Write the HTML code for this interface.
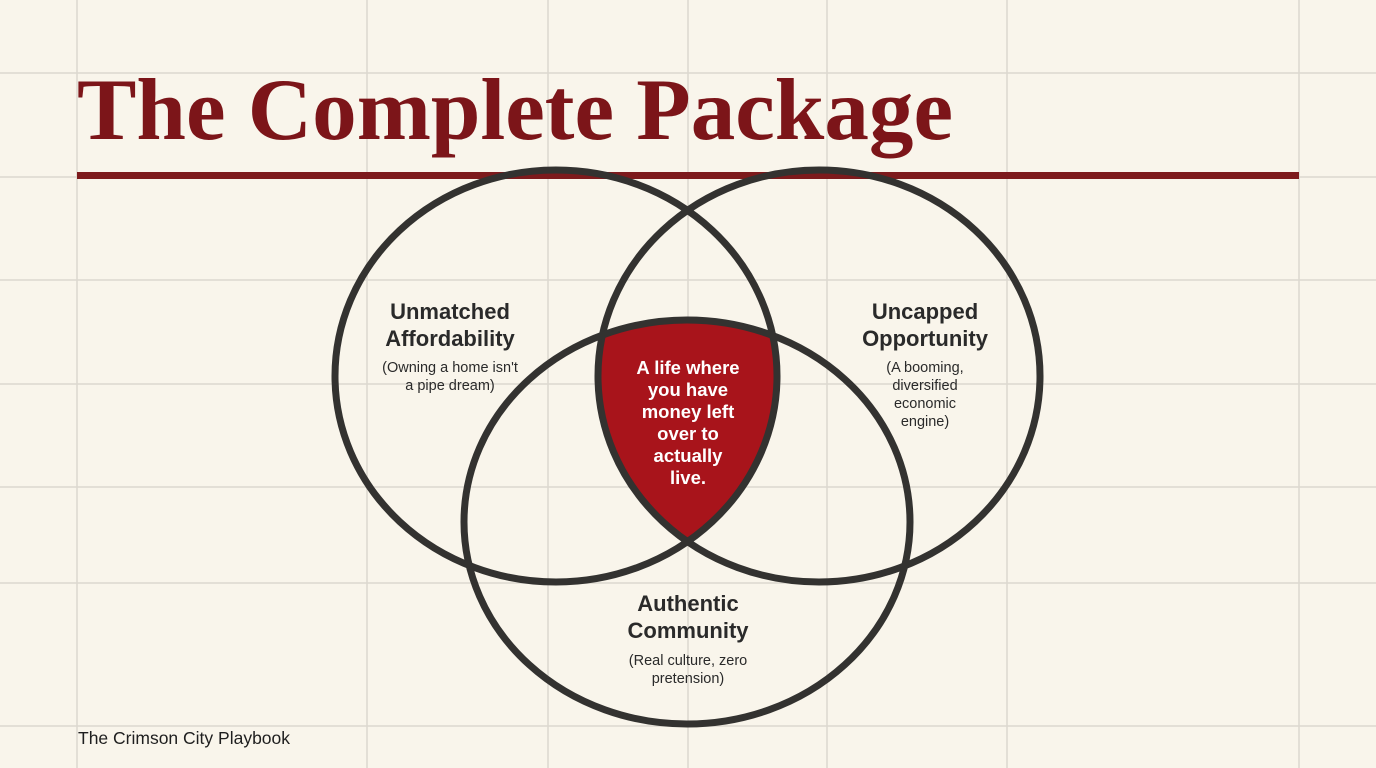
<!DOCTYPE html>
<html><head><meta charset="utf-8"><style>
html,body{margin:0;padding:0;background:#f9f5eb;}
svg{display:block;}
</style></head><body>
<svg width="1376" height="768" viewBox="0 0 1376 768" xmlns="http://www.w3.org/2000/svg">
<rect width="1376" height="768" fill="#f9f5eb"/>
<g stroke="#dcd8cf" stroke-width="1.5">
<line x1="77" y1="0" x2="77" y2="768"/>
<line x1="367" y1="0" x2="367" y2="768"/>
<line x1="548" y1="0" x2="548" y2="768"/>
<line x1="688" y1="0" x2="688" y2="768"/>
<line x1="827" y1="0" x2="827" y2="768"/>
<line x1="1007" y1="0" x2="1007" y2="768"/>
<line x1="1299" y1="0" x2="1299" y2="768"/>
<line x1="0" y1="73" x2="1376" y2="73"/>
<line x1="0" y1="177" x2="1376" y2="177"/>
<line x1="0" y1="280" x2="1376" y2="280"/>
<line x1="0" y1="384" x2="1376" y2="384"/>
<line x1="0" y1="487" x2="1376" y2="487"/>
<line x1="0" y1="583" x2="1376" y2="583"/>
<line x1="0" y1="726" x2="1376" y2="726"/>
</g>
<text x="77" y="139" font-family="Liberation Serif, serif" font-weight="bold" font-size="88" fill="#7c1519" textLength="876" lengthAdjust="spacingAndGlyphs">The Complete Package</text>
<rect x="77" y="172" width="1222" height="7" fill="#7d1a1c"/>
<defs>
<clipPath id="cL"><ellipse cx="556" cy="376" rx="221" ry="206"/></clipPath>
<clipPath id="cR"><ellipse cx="819" cy="376" rx="221" ry="206"/></clipPath>
</defs>
<g clip-path="url(#cL)"><g clip-path="url(#cR)">
<ellipse cx="687" cy="522" rx="223" ry="202" fill="#a8141b"/>
</g></g>
<g fill="none" stroke="#333230" stroke-width="7">
<ellipse cx="556" cy="376" rx="221" ry="206"/>
<ellipse cx="819" cy="376" rx="221" ry="206"/>
<ellipse cx="687" cy="522" rx="223" ry="202"/>
</g>
<g font-family="Liberation Sans, sans-serif" text-anchor="middle" fill="#2a2a2a">
<text x="450" y="319" font-size="22" font-weight="bold">Unmatched</text>
<text x="450" y="346" font-size="22" font-weight="bold">Affordability</text>
<text x="450" y="372" font-size="14.5">(Owning a home isn't</text>
<text x="450" y="390" font-size="14.5">a pipe dream)</text>
<text x="925" y="319" font-size="22" font-weight="bold">Uncapped</text>
<text x="925" y="346" font-size="22" font-weight="bold">Opportunity</text>
<text x="925" y="372" font-size="14.5">(A booming,</text>
<text x="925" y="390" font-size="14.5">diversified</text>
<text x="925" y="408" font-size="14.5">economic</text>
<text x="925" y="426" font-size="14.5">engine)</text>
<text x="688" y="611" font-size="22" font-weight="bold">Authentic</text>
<text x="688" y="638" font-size="22" font-weight="bold">Community</text>
<text x="688" y="665" font-size="14.5">(Real culture, zero</text>
<text x="688" y="683" font-size="14.5">pretension)</text>
<g fill="#ffffff" font-size="18.5" font-weight="bold">
<text x="688" y="374">A life where</text>
<text x="688" y="396">you have</text>
<text x="688" y="418">money left</text>
<text x="688" y="440">over to</text>
<text x="688" y="462">actually</text>
<text x="688" y="484">live.</text>
</g>
</g>
<text x="78" y="744" font-family="Liberation Sans, sans-serif" font-size="17.5" fill="#1f1f1f">The Crimson City Playbook</text>
</svg>
</body></html>
